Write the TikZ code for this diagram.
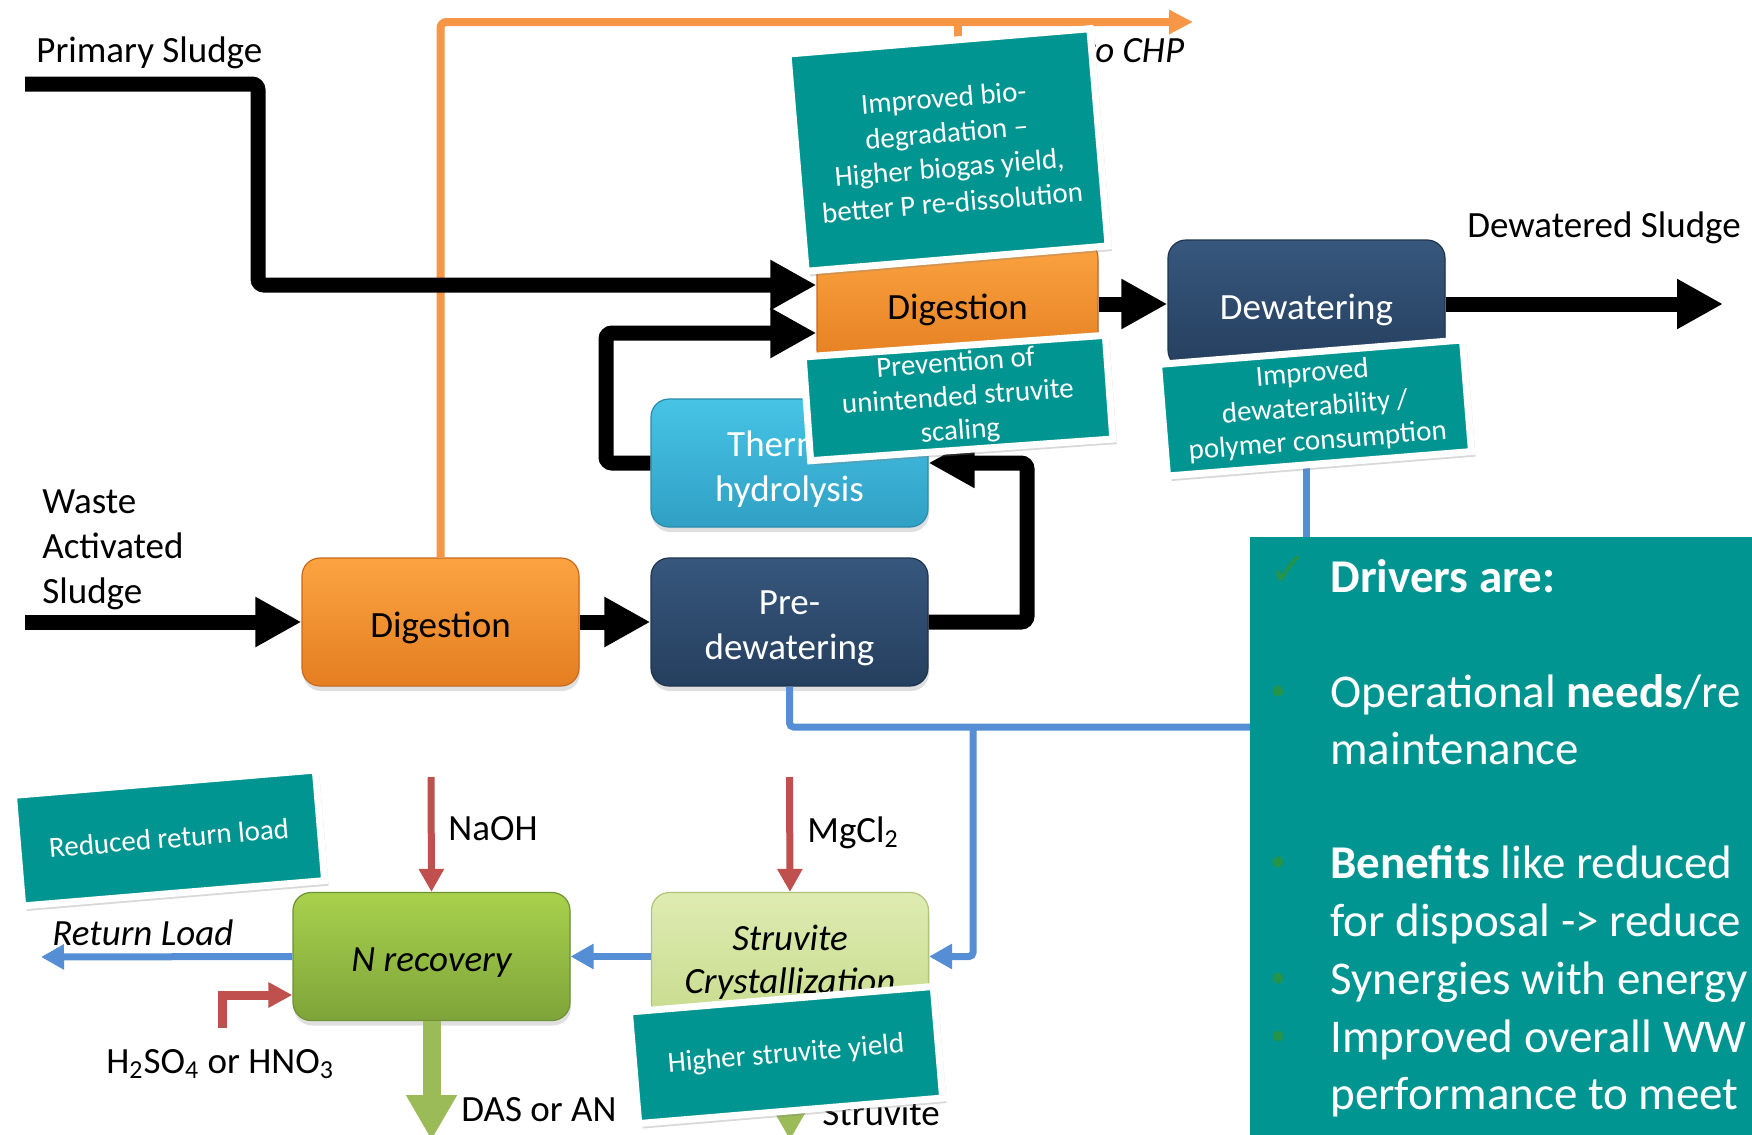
\documentclass[tikz,border=0pt]{standalone}
\usepackage{fontspec}
\setmainfont{Carlito}
\newfontfamily\djv{DejaVu Sans}
\usetikzlibrary{arrows.meta,shadows}
\newcommand{\dnline}[1]{\raisebox{-3pt}[\height][\depth]{#1}}
\definecolor{teal1}{HTML}{009591}
\definecolor{orTop}{HTML}{FCA441}
\definecolor{orBot}{HTML}{E47E21}
\definecolor{orEdge}{HTML}{C8691C}
\definecolor{nvTop}{HTML}{37577D}
\definecolor{nvBot}{HTML}{253F5E}
\definecolor{nvEdge}{HTML}{1F344F}
\definecolor{lbTop}{HTML}{46C4E6}
\definecolor{lbBot}{HTML}{30A0C4}
\definecolor{lbEdge}{HTML}{2A8CAD}
\definecolor{gnTop}{HTML}{A9D14C}
\definecolor{gnBot}{HTML}{7EA43A}
\definecolor{gnEdge}{HTML}{6E9233}
\definecolor{pgTop}{HTML}{DEECB2}
\definecolor{pgBot}{HTML}{C8DB8D}
\definecolor{pgEdge}{HTML}{B0C479}
\definecolor{orLine}{HTML}{F79646}
\definecolor{blLine}{HTML}{558ED5}
\definecolor{rdLine}{HTML}{C0504D}
\definecolor{gnLine}{HTML}{9BBB59}
\definecolor{chk}{HTML}{24944A}
\begin{document}
\begin{tikzpicture}[x=0.5pt,y=-0.5pt,
  lbl/.style={font=\fontsize{18.5}{22.5}\selectfont, inner sep=0, anchor=base west},
  drvtxt/.style={font=\fontsize{23.5}{28.5}\selectfont, text=white, inner sep=0, anchor=base west},
  procbox/.style={rounded corners=9pt, minimum width=138.5pt, minimum height=64pt, inner sep=0,
    align=center, font=\fontsize{18.5}{22.5}\selectfont, line width=0.6pt,
    drop shadow={opacity=0.25, shadow xshift=0.5pt, shadow yshift=-2.5pt}},
  orbox/.style={procbox, top color=orTop, bottom color=orBot, draw=orEdge},
  nvbox/.style={procbox, top color=nvTop, bottom color=nvBot, draw=nvEdge, text=white},
  lbbox/.style={procbox, top color=lbTop, bottom color=lbBot, draw=lbEdge, text=white},
  gnbox/.style={procbox, top color=gnTop, bottom color=gnBot, draw=gnEdge},
  pgbox/.style={procbox, top color=pgTop, bottom color=pgBot, draw=pgEdge},
  notebox/.style={fill=teal1, draw=white, line width=3.5pt, inner sep=0, align=center, text=white,
    font=\fontsize{14.5}{17}\selectfont,
    drop shadow={opacity=0.3, shadow xshift=2pt, shadow yshift=-2.5pt}},
  blk/.style={draw=black, line width=7.5pt, rounded corners=3pt, -{Triangle[length=23pt,width=23.5pt]}},
  orgarrow/.style={draw=orLine, line width=4pt, rounded corners=3pt, -{Triangle[length=12pt,width=11.5pt]}},
  orgline/.style={draw=orLine, line width=4pt},
  bluarrow/.style={draw=blLine, line width=3.5pt, rounded corners=2pt, -{Triangle[length=11.5pt,width=12pt]}},
  bluline/.style={draw=blLine, line width=3.5pt, rounded corners=2pt},
  redarrow/.style={draw=rdLine, line width=3.5pt, -{Triangle[length=11.5pt,width=12pt]}},
  redelbow/.style={draw=rdLine, line width=4.5pt, -{Triangle[length=12pt,width=12pt]}},
  grnarrow/.style={draw=gnLine, line width=9pt, -{Triangle[length=22.5pt,width=24pt]}}
]
\useasboundingbox (0,0) rectangle (1752,1135);
\fill[white] (0,0) rectangle (1752,1135);
\clip (0,0) rectangle (1752,1135);

% free ends
\coordinate (psin) at (25,84);
\coordinate (wasin) at (25,622);
\coordinate (dsout) at (1723,304);
\coordinate (chp) at (1193,22);
\coordinate (rl) at (41,957);
\coordinate (bj) at (973,727);
\coordinate (naoh) at (431,777);
\coordinate (mgcl) at (789.5,777);
\coordinate (acid) at (222,1028);
\coordinate (das) at (431.5,1140);
\coordinate (struout) at (790,1140);
\coordinate (drvnw) at (1250,537);

% process boxes
\node[orbox] (dig2) at (440.5,622) {\dnline{Digestion}};
\node[nvbox] (pred) at (789.5,622) {\dnline{Pre-}\\\dnline{dewatering}};
\node[lbbox] (thh) at (789.5,463) {\dnline{Thermal}\\\dnline{hydrolysis}};
\node[orbox, minimum width=140.5pt] (dig1) at (957.5,304) {\dnline{Digestion}};
\node[nvbox] (dew) at (1306.5,304) {\dnline{Dewatering}};
\node[gnbox, font=\fontsize{18.5}{22.5}\selectfont\itshape] (nrec) at (431.5,956.5) {\dnline{N recovery}};
\node[pgbox, font=\fontsize{18.5}{21.5}\selectfont\itshape] (stru) at (790,956.5) {\dnline{Struvite}\\\dnline{Crystallization}};

% orange biogas line
\draw[orgarrow] (dig2.north) |- (chp);
\draw[orgline] (dig1.north) -- (dig1.north |- chp);

% black sludge lines
\draw[blk] (psin) -| (258,285) -- (dig1.west |- 0,285);
\draw[blk] (thh.west) -| (606,333) -- (dig1.west |- 0,333);
\draw[blk] (pred.east) -| (1027,463) -- (thh.east);
\draw[blk] (wasin) -- (dig2.west);
\draw[blk] (dig2.east) -- (pred.west);
\draw[blk] (dig1.east) -- (dew.west);
\draw[blk] (dew.east) -- (dsout);

% blue lines
\draw[bluline] (pred.south) |- (drvnw |- bj);
\draw[bluarrow] (bj) |- (stru.east);
\draw[bluline] (dew.south) -- (dew.south |- drvnw);
\draw[bluarrow] (stru.west) -- (nrec.east);
\draw[bluarrow] (nrec.west) -- (rl);

% red dosing
\draw[redarrow] (naoh) -- (nrec.north);
\draw[redarrow] (mgcl) -- (stru.north);
\draw[redelbow] (acid) |- (nrec.west |- 0,995);

% green products
\draw[grnarrow] (nrec.south) -- (das);
\draw[grnarrow] (stru.south) -- (struout);

% labels
\node[lbl] (lps) at (36,62) {Primary Sludge};
\node[lbl] (lds) at (1467,237) {Dewatered Sludge};
\node[lbl] (lw1) at (42,513) {Waste};
\node[lbl] (lw2) at (42,558) {Activated};
\node[lbl] (lw3) at (42,603) {Sludge};
\node[lbl, font=\fontsize{18.5}{22.5}\selectfont\itshape] (lrl) at (52,945) {Return Load};
\node[lbl] (lna) at (448,840) {NaOH};
\node[lbl] (lmg) at (807,842) {MgCl\textsubscript{2}};
\node[lbl] (lac) at (106,1073) {H\textsubscript{2}SO\textsubscript{4} or HNO\textsubscript{3}};
\node[lbl] (ldas) at (461,1121) {DAS or AN};
\node[lbl] (lstr) at (822,1125) {Struvite};
\node[lbl, font=\fontsize{18.5}{22.5}\selectfont\itshape] (lchp) at (1083,62) {to CHP};

% notes
\node[notebox, rotate=4.8, minimum width=151.5pt, minimum height=109pt, font=\fontsize{14.5}{17.5}\selectfont] (n1) at (948,150)
  {Improved bio-\\degradation –\\Higher biogas yield,\\better P re-dissolution};
\node[notebox, rotate=4.1, minimum width=151.5pt, minimum height=52pt] (n2) at (958,398)
  {Prevention of\\unintended struvite\\scaling};
\node[notebox, rotate=4.6, minimum width=152.5pt, minimum height=56pt] (n3) at (1315,408)
  {Improved\\dewaterability /\\polymer consumption};
\node[notebox, rotate=4.8, minimum width=151.5pt, minimum height=55.5pt] (n4) at (169,838)
  {Reduced return load};
\node[notebox, rotate=4.8, minimum width=152.5pt, minimum height=56pt] (n5) at (786,1055)
  {Higher struvite yield};

% drivers panel
\node[fill=teal1, anchor=north west, minimum width=262pt, minimum height=312pt, inner sep=0] (drv) at (drvnw) {};
\node[text=chk, inner sep=0, font=\djv\fontsize{23}{23}\selectfont] (ck) at (1289,571) {✓};
\node[drvtxt] (d1) at (1330,592) {\textbf{Drivers are:}};
\node[drvtxt] (d2) at (1330,707) {Operational \textbf{needs}/re};
\node[drvtxt] (d3) at (1330,764) {maintenance};
\node[drvtxt] (d4) at (1330,878) {\textbf{Benefits} like reduced};
\node[drvtxt] (d5) at (1330,936) {for disposal -> reduce};
\node[drvtxt] (d6) at (1330,994) {Synergies with energy};
\node[drvtxt] (d7) at (1330,1052) {Improved overall WW};
\node[drvtxt] (d8) at (1330,1109) {performance to meet};
\fill[chk] (1278,691) circle (5.5);
\fill[chk] (1278,862) circle (5.5);
\fill[chk] (1278,978) circle (5.5);
\fill[chk] (1278,1036) circle (5.5);
\end{tikzpicture}
\end{document}
